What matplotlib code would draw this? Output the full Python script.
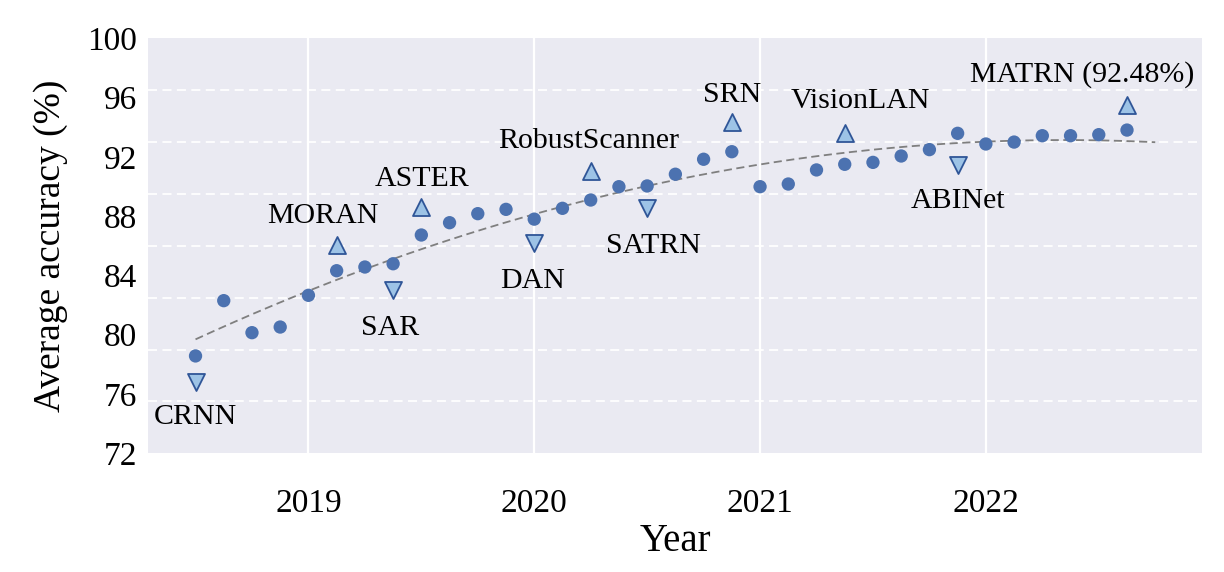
import numpy as np
import matplotlib
matplotlib.use("Agg")
import matplotlib.pyplot as plt
from matplotlib.ticker import MultipleLocator, FixedLocator

# ---- data ----
start_year = 2018.5
step = 0.125
accuracy = [78.57, 82.30, 80.14, 80.52, 82.66, 84.32, 84.57, 84.79, 86.73, 87.56,
            88.17, 88.46, 87.80, 88.53, 89.09, 89.99, 90.04, 90.83, 91.84, 92.35,
            89.99, 90.17, 91.12, 91.50, 91.63, 92.06, 92.49, 93.59, 92.87, 93.00,
            93.43, 93.43, 93.50, 93.81]
years = [start_year + step * i for i in range(len(accuracy))]

method_names = ["CRNN", "MORAN", "SAR", "ASTER", "DAN", "RobustScanner", "SATRN",
                "SRN", "VisionLAN", "ABINet", "MATRN (92.48%)"]
method_index = [0, 5, 7, 8, 12, 14, 16, 19, 23, 27, 33]
method_marker_y = [76.83, 86.06, 83.02, 88.64, 86.17, 91.07, 88.57, 94.37, 93.59, 91.45, 95.50]
method_dir = ["down", "up", "down", "up", "down", "up", "down", "up", "up", "down", "up"]

x_ticks = [2019, 2020, 2021, 2022]
y_ticks = [72, 76, 80, 84, 88, 92, 96, 100]

# label offsets (pixels, relative to marker) -- layout only
label_offsets_px = [(0, -42), (-14, 22), (-3, -45), (1, 21), (-2, -45), (-2, 23),
                    (6, -45), (0, 20), (16, 25), (0, -43), (-45, 23)]

plt.rcParams['font.family'] = ['Liberation Serif', 'DejaVu Serif']

fig = plt.figure(figsize=(12.24, 5.72), dpi=100)
ax = fig.add_axes([0.121, 0.2075, 0.861, 0.7255])
ax.set_facecolor('#EAEAF2')
for s in ax.spines.values():
    s.set_visible(False)

ax.set_xlim(2018.29, 2022.957)
ax.set_ylim(72, 100)

# grid
ax.xaxis.set_major_locator(FixedLocator(x_ticks))
ax.yaxis.set_major_locator(FixedLocator(y_ticks))
ax.yaxis.set_minor_locator(MultipleLocator(3.5, offset=72))
ax.grid(True, axis='x', which='major', color='white', lw=1.6, ls='-')
ax.grid(True, axis='y', which='minor', color='white', lw=1.3, ls=(0, (5, 3)))
ax.grid(False, axis='y', which='major')
ax.set_axisbelow(True)
ax.tick_params(axis='both', which='both', length=0)
ax.tick_params(axis='x', labelsize=24, pad=25)
ax.tick_params(axis='y', labelsize=24, pad=8)
ax.set_xticklabels([str(t) for t in x_ticks])
ax.set_yticklabels([str(t) for t in y_ticks])

# trend
coef = np.polyfit(years, accuracy, 2)
xt = np.linspace(years[0], years[-1] + step, 200)
ax.plot(xt, np.polyval(coef, xt), color='#7F7F7F', lw=1.3, ls=(0, (4.5, 2.5)), zorder=2)

# dots
ax.scatter(years, accuracy, s=92, color='#4C72B0', edgecolors='none', zorder=3)

# method markers + labels
for name, idx, my, d, (dx, dy) in zip(method_names, method_index, method_marker_y,
                                       method_dir, label_offsets_px):
    mk = 'v' if d == 'down' else '^'
    ax.scatter([years[idx]], [my], marker=mk, s=150, color='#9DC3E6',
               edgecolors='#2F5597', linewidths=1.3, zorder=4)
    ax.annotate(name, xy=(years[idx], my), xytext=(dx * 0.72, dy * 0.72),
                textcoords='offset points', ha='center', va='baseline',
                fontsize=21.5, color='black', zorder=5)

ax.set_xlabel('Year', fontsize=28, labelpad=3)
ax.set_ylabel('Average accuracy (%)', fontsize=27, labelpad=14)

fig.savefig('out.png', dpi=100)
